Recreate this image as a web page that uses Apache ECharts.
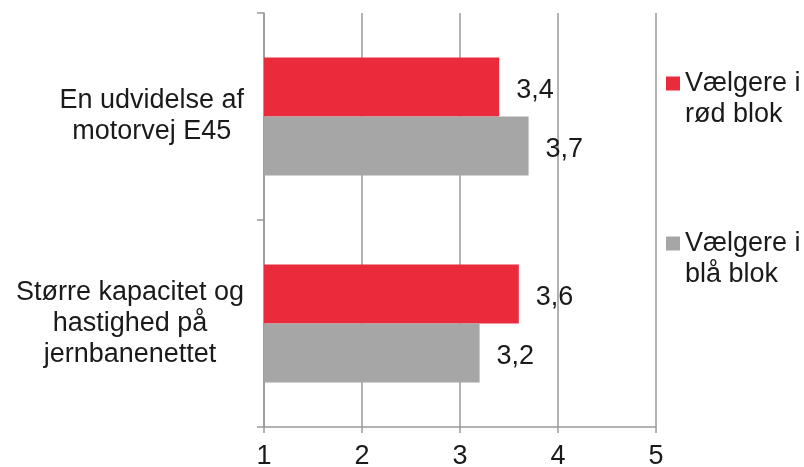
<!DOCTYPE html>
<html><head><meta charset="utf-8">
<script src="https://cdn.jsdelivr.net/npm/echarts@6/dist/echarts.min.js"></script>
<style>html,body{margin:0;padding:0;background:#fff}#c{width:804px;height:467px}</style>
</head><body><div id="c"></div>
<script>
const categories = ['En udvidelse af\nmotorvej E45', 'Større kapacitet og\nhastighed på\njernbanenettet'];
const redName = 'Vælgere i\nrød blok';
const blueName = 'Vælgere i\nblå blok';
const redValues = [3.4, 3.6];
const blueValues = [3.7, 3.2];
const xTicks = [1, 2, 3, 4, 5];

const font = 'Liberation Sans, Arial, sans-serif';
const axisGray = '#999999';
const fs = 27;
const chart = echarts.init(document.getElementById('c'));
const labelOpt = {
  show: true, position: 'right', distance: 17, offset: [0, 4],
  fontFamily: font, fontSize: fs, color: '#1a1a1a',
  formatter: p => String(p.value).replace('.', ',')
};
const legendText = {fontFamily: font, fontSize: fs, color: '#1a1a1a', lineHeight: 31};
const legendFmt = n => ' \n' + n;
chart.setOption({
  animation: false,
  grid: {left: 264, right: 148, top: 13, bottom: 40, containLabel: false, outerBoundsMode: 'none'},
  legend: [
    {data: [redName], orient: 'vertical', left: 666, top: 37, padding: 0, itemWidth: 14, itemHeight: 14, itemGap: 0,
     icon: 'rect', textStyle: legendText, formatter: legendFmt},
    {data: [blueName], orient: 'vertical', left: 666, top: 197, padding: 0, itemWidth: 14, itemHeight: 14, itemGap: 0,
     icon: 'rect', textStyle: legendText, formatter: legendFmt}
  ],
  xAxis: {
    type: 'value', min: xTicks[0], max: xTicks[xTicks.length - 1], interval: 1,
    axisLine: {show: true, lineStyle: {color: axisGray, width: 1.5}},
    axisTick: {show: true, length: 6, lineStyle: {color: axisGray, width: 1.5}},
    splitLine: {show: true, lineStyle: {color: axisGray, width: 1.5}},
    axisLabel: {fontFamily: font, fontSize: fs, color: '#1a1a1a', margin: 16}
  },
  yAxis: {
    type: 'category', data: categories, inverse: true,
    axisLine: {show: true, lineStyle: {color: axisGray, width: 1.5}},
    axisTick: {show: true, length: 7, alignWithLabel: false, lineStyle: {color: axisGray, width: 1.5}},
    axisLabel: {
      fontFamily: font, fontSize: fs, color: '#1a1a1a', margin: 20, lineHeight: 31, align: 'right',
      formatter: v => v.split('\n').map(s => '{c|' + s + '}').join('\n'),
      rich: {c: {fontFamily: font, fontSize: fs, color: '#1a1a1a', lineHeight: 31, align: 'center'}}
    }
  },
  series: [
    {name: redName, type: 'bar', data: redValues, barGap: '0%', barCategoryGap: '43%',
     itemStyle: {color: '#E92B3C'}, label: labelOpt},
    {name: blueName, type: 'bar', data: blueValues, barGap: '0%', barCategoryGap: '43%',
     itemStyle: {color: '#A6A6A6'}, label: labelOpt}
  ]
});
</script></body></html>
